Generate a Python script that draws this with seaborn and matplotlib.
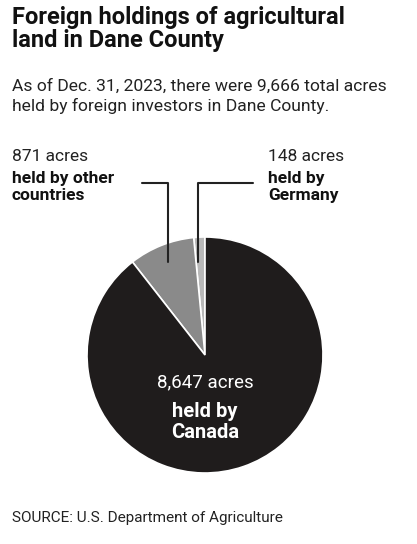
import matplotlib
matplotlib.use("Agg")
import matplotlib.pyplot as plt
import seaborn as sns
from matplotlib.lines import Line2D

sns.set_theme(style="white")
plt.rcParams['font.family'] = ['Roboto', 'DejaVu Sans']

categories = ["Canada", "Other countries", "Germany"]
acres = [8647, 871, 148]
colors = ["#1f1c1c", "#8a8a8a", "#b8b8b8"]

W, H = 417, 544
fig = plt.figure(figsize=(W/100, H/100), dpi=100)
fig.patch.set_facecolor("white")

def fx(x): return x / W
def fy(y): return 1 - y / H

cx, cy, r = 205, 355, 118
ax = fig.add_axes([fx(cx - r), fy(cy + r), 2*r/W, 2*r/H])
ax.pie(acres[::-1], colors=colors[::-1], startangle=90, counterclock=True,
       wedgeprops=dict(edgecolor="white", linewidth=1.2))
ax.set_xlim(-1, 1)
ax.set_ylim(-1, 1)
ax.set_aspect("equal")
ax.axis("off")

fig.text(fx(12), fy(6), "Foreign holdings of agricultural\nland in Dane County",
         fontsize=17, fontweight="bold", va="top", ha="left", linespacing=1.0, color="#111")
fig.text(fx(12), fy(79), "As of Dec. 31, 2023, there were 9,666 total acres\nheld by foreign investors in Dane County.",
         fontsize=12.6, va="top", ha="left", linespacing=1.3, color="#222")

fig.text(fx(12), fy(149), "871 acres", fontsize=12.5, va="top", ha="left", color="#222")
fig.text(fx(12), fy(171), "held by other\ncountries", fontsize=12.5, fontweight="bold",
         va="top", ha="left", linespacing=1.2, color="#111")
fig.text(fx(268), fy(149), "148 acres", fontsize=12.5, va="top", ha="left", color="#222")
fig.text(fx(268), fy(171), "held by\nGermany", fontsize=12.5, fontweight="bold",
         va="top", ha="left", linespacing=1.2, color="#111")

fig.text(fx(cx), fy(382), "8,647 acres", fontsize=13.5, va="center", ha="center", color="white")
fig.text(fx(cx), fy(422), "held by\nCanada", fontsize=14.5, fontweight="bold",
         va="center", ha="center", color="white", linespacing=1.15)

for xs, ys in [([142, 168, 168], [183, 183, 262]), ([253, 198, 198], [183, 183, 262])]:
    fig.add_artist(Line2D([fx(x) for x in xs], [fy(y) for y in ys], color="#222", lw=1.5))

fig.text(fx(12), fy(518), "SOURCE: U.S. Department of Agriculture", fontsize=11,
         va="center", ha="left", color="#222")

fig.savefig("out.png", dpi=100, facecolor="white")
